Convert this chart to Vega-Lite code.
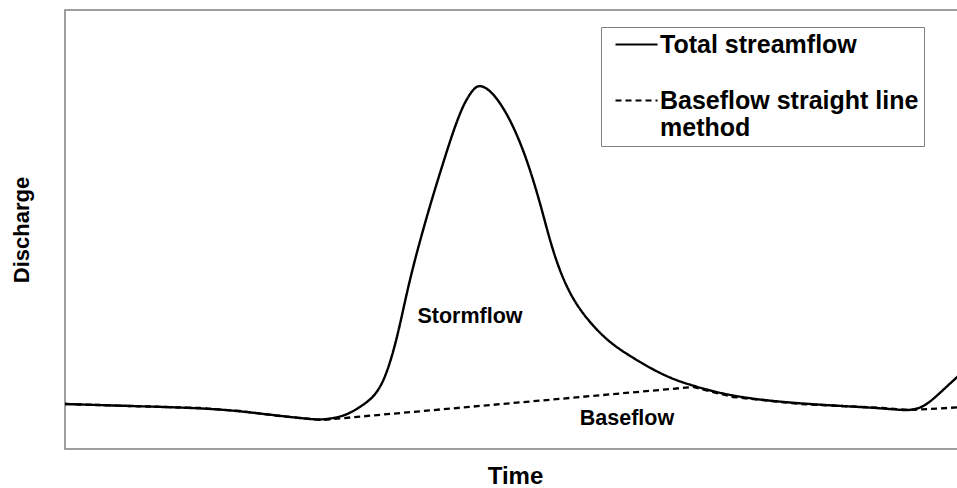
{
  "$schema": "https://vega.github.io/schema/vega-lite/v6.json",
  "width": 900,
  "height": 439,
  "autosize": {"type": "none"},
  "padding": {"left": 65, "top": 10, "right": 0, "bottom": 39},
  "background": "white",
  "datasets": {
    "flow": [
      {"t": 0, "q": 45, "series": "Total streamflow"},
      {"t": 65, "q": 43, "series": "Total streamflow"},
      {"t": 135, "q": 41, "series": "Total streamflow"},
      {"t": 175, "q": 38, "series": "Total streamflow"},
      {"t": 215, "q": 33, "series": "Total streamflow"},
      {"t": 245, "q": 30, "series": "Total streamflow"},
      {"t": 257, "q": 29, "series": "Total streamflow"},
      {"t": 275, "q": 32, "series": "Total streamflow"},
      {"t": 285, "q": 36, "series": "Total streamflow"},
      {"t": 295, "q": 42, "series": "Total streamflow"},
      {"t": 308, "q": 51, "series": "Total streamflow"},
      {"t": 318, "q": 66, "series": "Total streamflow"},
      {"t": 327, "q": 92, "series": "Total streamflow"},
      {"t": 335, "q": 124, "series": "Total streamflow"},
      {"t": 343, "q": 162, "series": "Total streamflow"},
      {"t": 353, "q": 201, "series": "Total streamflow"},
      {"t": 362, "q": 233, "series": "Total streamflow"},
      {"t": 370, "q": 260, "series": "Total streamflow"},
      {"t": 380, "q": 292, "series": "Total streamflow"},
      {"t": 388, "q": 317, "series": "Total streamflow"},
      {"t": 398, "q": 344, "series": "Total streamflow"},
      {"t": 408, "q": 360, "series": "Total streamflow"},
      {"t": 414, "q": 364, "series": "Total streamflow"},
      {"t": 422, "q": 361, "series": "Total streamflow"},
      {"t": 432, "q": 351, "series": "Total streamflow"},
      {"t": 445, "q": 330, "series": "Total streamflow"},
      {"t": 458, "q": 300, "series": "Total streamflow"},
      {"t": 468, "q": 270, "series": "Total streamflow"},
      {"t": 477, "q": 239, "series": "Total streamflow"},
      {"t": 485, "q": 208, "series": "Total streamflow"},
      {"t": 495, "q": 177, "series": "Total streamflow"},
      {"t": 508, "q": 149, "series": "Total streamflow"},
      {"t": 525, "q": 126, "series": "Total streamflow"},
      {"t": 545, "q": 106, "series": "Total streamflow"},
      {"t": 565, "q": 93, "series": "Total streamflow"},
      {"t": 585, "q": 81, "series": "Total streamflow"},
      {"t": 605, "q": 71, "series": "Total streamflow"},
      {"t": 625, "q": 64, "series": "Total streamflow"},
      {"t": 668, "q": 52, "series": "Total streamflow"},
      {"t": 735, "q": 45, "series": "Total streamflow"},
      {"t": 818, "q": 41, "series": "Total streamflow"},
      {"t": 842, "q": 38, "series": "Total streamflow"},
      {"t": 858, "q": 41, "series": "Total streamflow"},
      {"t": 875, "q": 56, "series": "Total streamflow"},
      {"t": 892, "q": 72, "series": "Total streamflow"},
      {"t": 900, "q": 79, "series": "Total streamflow"},
      {"t": 0, "q": 45, "series": "Baseflow straight line method"},
      {"t": 65, "q": 43, "series": "Baseflow straight line method"},
      {"t": 135, "q": 41, "series": "Baseflow straight line method"},
      {"t": 175, "q": 38, "series": "Baseflow straight line method"},
      {"t": 215, "q": 33, "series": "Baseflow straight line method"},
      {"t": 245, "q": 30, "series": "Baseflow straight line method"},
      {"t": 257, "q": 29, "series": "Baseflow straight line method"},
      {"t": 628, "q": 62, "series": "Baseflow straight line method"},
      {"t": 668, "q": 52, "series": "Baseflow straight line method"},
      {"t": 735, "q": 45, "series": "Baseflow straight line method"},
      {"t": 818, "q": 41, "series": "Baseflow straight line method"},
      {"t": 845, "q": 39, "series": "Baseflow straight line method"},
      {"t": 900, "q": 42, "series": "Baseflow straight line method"}
    ],
    "notes": [
      {"t": 405, "q": 132, "label": "Stormflow"},
      {"t": 562, "q": 30, "label": "Baseflow"}
    ]
  },
  "encoding": {
    "x": {
      "field": "t",
      "type": "quantitative",
      "scale": {"domain": [0, 900], "nice": false, "zero": false},
      "axis": {
        "title": "Time",
        "labels": false,
        "ticks": false,
        "domain": false,
        "grid": false,
        "titleFont": "Liberation Sans",
        "titleFontSize": 24,
        "titleFontWeight": "bold",
        "titleColor": "black",
        "titlePadding": 15
      }
    },
    "y": {
      "field": "q",
      "type": "quantitative",
      "scale": {"domain": [0, 439], "nice": false},
      "axis": {
        "title": "Discharge",
        "labels": false,
        "ticks": false,
        "domain": false,
        "grid": false,
        "titleFont": "Liberation Sans",
        "titleFontSize": 22,
        "titleFontWeight": "bold",
        "titleColor": "black",
        "titlePadding": 32
      }
    }
  },
  "layer": [
    {
      "data": {"name": "flow"},
      "transform": [{"filter": "datum.series == 'Total streamflow'"}],
      "mark": {
        "type": "line",
        "color": "black",
        "strokeWidth": 2.4,
        "interpolate": "basis",
        "clip": true
      },
      "encoding": {
        "strokeDash": {
          "field": "series",
          "type": "nominal",
          "scale": {
            "domain": ["Total streamflow", "Baseflow straight line method"],
            "range": [[1, 0], [6, 4]]
          },
          "legend": {
            "title": null,
            "orient": "none",
            "legendX": 536,
            "legendY": 17,
            "direction": "vertical",
            "strokeColor": "#808080",
            "fillColor": "white",
            "padding": 5,
            "symbolOffset": 18,
            "symbolType": "M-2,0H2",
            "symbolSize": 441,
            "symbolStrokeWidth": 2,
            "symbolStrokeColor": "black",
            "labelFont": "Liberation Sans",
            "labelFontSize": 25,
            "labelFontWeight": "bold",
            "labelColor": "black",
            "labelOffset": 11,
            "labelLimit": 400,
            "rowPadding": 30,
            "labelExpr": "datum.label == 'Baseflow straight line method' ? ['Baseflow straight line', 'method'] : datum.label"
          }
        }
      }
    },
    {
      "data": {"name": "flow"},
      "transform": [{"filter": "datum.series == 'Baseflow straight line method'"}],
      "mark": {
        "type": "line",
        "color": "black",
        "strokeWidth": 2.3,
        "interpolate": "linear",
        "clip": true
      },
      "encoding": {
        "strokeDash": {"field": "series", "type": "nominal"}
      }
    },
    {
      "data": {"name": "notes"},
      "mark": {
        "type": "text",
        "font": "Liberation Sans",
        "fontSize": 21.5,
        "fontWeight": "bold",
        "color": "black"
      },
      "encoding": {
        "text": {"field": "label"}
      }
    }
  ],
  "config": {
    "view": {"stroke": "#808080", "strokeWidth": 1.5}
  }
}
